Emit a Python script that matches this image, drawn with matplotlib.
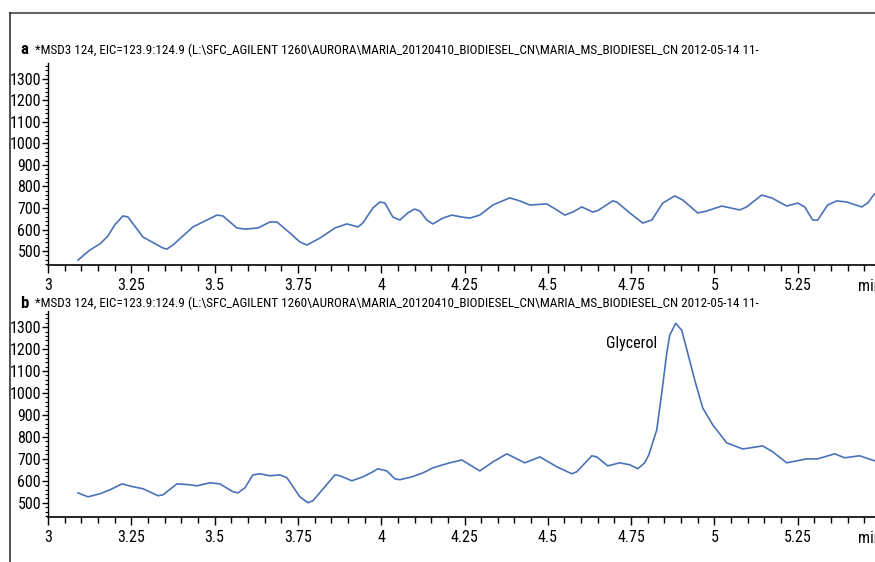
import matplotlib
matplotlib.use("Agg")
from matplotlib import pyplot as plt
from matplotlib import font_manager as fm
from matplotlib.lines import Line2D
from matplotlib.ticker import MultipleLocator, FuncFormatter
import numpy as np

# EIC m/z 124, run a (sample without glycerol)
time_a = [3.09, 3.126, 3.156, 3.18, 3.20, 3.225, 3.24, 3.285, 3.345, 3.357, 3.375, 3.435,
          3.477, 3.507, 3.525, 3.567, 3.591, 3.63, 3.666, 3.687, 3.726, 3.756, 3.777, 3.816,
          3.861, 3.897, 3.93, 3.945, 3.975, 3.996, 4.011, 4.035, 4.056, 4.08, 4.10, 4.116,
          4.137, 4.155, 4.185, 4.212, 4.242, 4.266, 4.296, 4.335, 4.386, 4.416, 4.446, 4.497,
          4.527, 4.551, 4.575, 4.602, 4.635, 4.65, 4.695, 4.707, 4.746, 4.785, 4.812, 4.845,
          4.881, 4.905, 4.95, 4.977, 5.022, 5.076, 5.097, 5.142, 5.172, 5.217, 5.25, 5.271,
          5.295, 5.31, 5.34, 5.367, 5.397, 5.442, 5.46, 5.48]
abund_a = [458, 505, 533, 570, 621, 663, 658, 565, 514, 509, 528, 612,
           644, 667, 663, 607, 602, 607, 635, 635, 584, 542, 528, 560,
           607, 626, 612, 630, 700, 728, 723, 658, 644, 677, 695, 686,
           644, 626, 653, 667, 658, 653, 667, 714, 747, 733, 714, 719,
           691, 667, 681, 705, 681, 688, 733, 728, 677, 630, 644, 723,
           756, 737, 677, 686, 709, 691, 705, 760, 747, 709, 723, 705,
           644, 644, 714, 733, 728, 705, 723, 765]

# EIC m/z 124, run b (glycerol peak near 4.88 min)
time_b = [3.09, 3.12, 3.156, 3.186, 3.222, 3.255, 3.285, 3.33, 3.345, 3.387, 3.426, 3.447,
          3.486, 3.516, 3.555, 3.57, 3.591, 3.615, 3.636, 3.666, 3.696, 3.717, 3.756, 3.78,
          3.795, 3.831, 3.861, 3.876, 3.912, 3.945, 3.975, 3.99, 4.017, 4.041, 4.056, 4.092,
          4.125, 4.155, 4.185, 4.206, 4.242, 4.296, 4.335, 4.377, 4.431, 4.476, 4.527, 4.572,
          4.587, 4.632, 4.647, 4.68, 4.716, 4.746, 4.77, 4.791, 4.803, 4.827, 4.842, 4.857,
          4.866, 4.884, 4.902, 4.92, 4.941, 4.965, 4.995, 5.037, 5.085, 5.145, 5.175, 5.217,
          5.277, 5.31, 5.361, 5.391, 5.436, 5.481]
abund_b = [545, 527, 541, 559, 586, 573, 564, 532, 536, 586, 582, 577,
           591, 586, 550, 545, 568, 627, 632, 623, 627, 614, 527, 500,
           509, 573, 627, 623, 600, 618, 641, 655, 645, 609, 605, 618,
           636, 659, 673, 682, 695, 645, 686, 723, 682, 709, 664, 632,
           641, 714, 709, 668, 682, 673, 655, 682, 718, 832, 1000, 1182,
           1264, 1318, 1286, 1182, 1059, 932, 855, 773, 745, 759, 732, 682,
           700, 700, 723, 705, 714, 691]

header = ("*MSD3 124, EIC=123.9:124.9 (L:\\SFC_AGILENT 1260\\AURORA\\MARIA_20120410_BIODIESEL_CN"
          "\\MARIA_MS_BIODIESEL_CN 2012-05-14 11-")

# pick a narrow sans face if one is installed
def pick_narrow():
    prefs = ["Liberation Sans Narrow", "Roboto Condensed", "DejaVu Sans", "Noto Sans",
             "Open Sans", "Roboto", "Lato", "Inter"]
    found = []
    for f in fm.fontManager.ttflist:
        narrow = ("Narrow" in f.name or "Condensed" in f.name
                  or f.stretch in ("condensed", "semi-condensed", "extra-condensed", "ultra-condensed"))
        if narrow and f.weight in (400, "normal", "regular") and f.style == "normal":
            found.append(f)
    for p in prefs:
        for f in found:
            if f.name == p or f.name.startswith(p):
                return f.name, f.stretch
    if found:
        return found[0].name, found[0].stretch
    return "DejaVu Sans", "normal"

fam, stretch = pick_narrow()
plt.rcParams['font.family'] = [fam, 'DejaVu Sans']
plt.rcParams['font.stretch'] = stretch

W, H = 875, 562
fig = plt.figure(figsize=(W / 100, H / 100), dpi=100)

def px_axes(x0, y_top, y_bot, w):
    return fig.add_axes([x0 / W, (H - y_bot) / H, w / W, (y_bot - y_top) / H])

def xlab(v, pos):
    if abs(v - 5.5) < 1e-6:
        return ""
    return "%g" % v

def style(ax):
    ax.set_xlim(3, 5.5)
    ax.set_ylim(435, 1374)
    for s in ("top", "right"):
        ax.spines[s].set_visible(False)
    ax.spines["left"].set_linewidth(1.0)
    ax.spines["bottom"].set_linewidth(1.2)
    ax.xaxis.set_major_locator(MultipleLocator(0.25))
    ax.xaxis.set_minor_locator(MultipleLocator(0.05))
    ax.xaxis.set_major_formatter(FuncFormatter(xlab))
    ax.set_yticks(np.arange(500, 1301, 100))
    ax.yaxis.set_minor_locator(MultipleLocator(20))
    ax.tick_params(axis="x", which="major", length=6, width=1, labelsize=11.5, pad=3)
    ax.tick_params(axis="x", which="minor", length=4, width=1)
    ax.tick_params(axis="y", which="major", length=4, width=1, labelsize=11.5, pad=1)
    ax.tick_params(axis="y", which="minor", length=2, width=0.8)
    # time unit sits in place of the last tick label
    ax.annotate("min", xy=(5.5, 0), xycoords=("data", "axes fraction"),
                xytext=(0, -10), textcoords="offset points",
                ha="right", va="top", fontsize=11.5, annotation_clip=False)

blue = "#4a72b8"

ax1 = px_axes(48, 63, 265, 833)
ax1.plot(time_a, abund_a, color=blue, lw=1.2)
style(ax1)

ax2 = px_axes(48, 311, 517, 833)
ax2.plot(time_b, abund_b, color=blue, lw=1.2)
style(ax2)
ax2.text(4.752, 1227, "Glycerol", ha="center", va="center", fontsize=11.5)

# panel letters and run headers
heads = []
for y, letter in ((50, "a"), (303, "b")):
    fig.text(20 / W, 1 - y / H, letter, fontsize=12, fontweight="bold", ha="left", va="center")
    heads.append(fig.text(35 / W, 1 - y / H, header, fontsize=10.5, ha="left", va="center"))

# shrink the header so it ends near x = 760 px
r = fig.canvas.get_renderer()
wid = heads[0].get_window_extent(r).width
if wid > 725:
    for t in heads:
        t.set_fontsize(10.5 * 725 / wid)

# outer frame (top and left edges)
fig.add_artist(Line2D([10 / W, 1], [1 - 13 / H, 1 - 13 / H], color="#666666", lw=1.5))
fig.add_artist(Line2D([10 / W, 10 / W], [0, 1 - 13 / H], color="#333333", lw=1.2))

fig.savefig("out.png", dpi=100)
